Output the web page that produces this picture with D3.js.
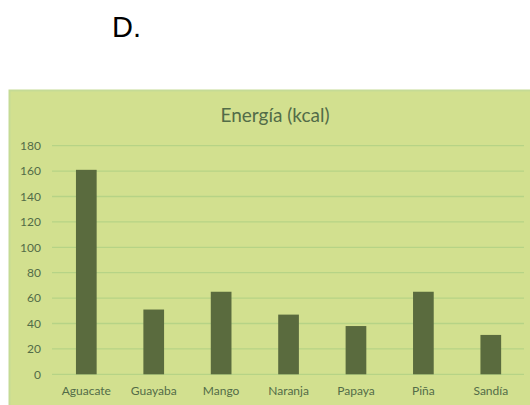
<!DOCTYPE html>
<html><head><meta charset="utf-8">
<script src="https://cdn.jsdelivr.net/npm/d3@7"></script>
<style>html,body{margin:0;padding:0;background:#fff;}svg{display:block;}</style>
</head><body>
<script>
const categories = ["Aguacate","Guayaba","Mango","Naranja","Papaya","Piña","Sandía"];
const energia = [161, 51, 65, 47, 38, 65, 31];
const yTicks = [0,20,40,60,80,100,120,140,160,180];
const chartTitle = "Energía (kcal)";
const label = "D.";

const W = 530, H = 405;
const svg = d3.select("body").append("svg").attr("width", W).attr("height", H);

svg.append("text").attr("x", 112).attr("y", 37)
  .attr("font-family", "Liberation Sans, Arial, sans-serif").attr("font-size", 29)
  .attr("fill", "#000").text(label);

svg.append("rect").attr("x", 9.5).attr("y", 90.5).attr("width", W).attr("height", H)
  .attr("fill", "#d2e08f").attr("stroke", "#c5db95").attr("stroke-width", 2);

const x = d3.scaleBand().domain(categories).range([52.6, 524.5]).padding(0);
const y = d3.scaleLinear().domain([0, 180]).range([374.3, 145.7]);

const textCol = "#526c48";
const font = "Lato, 'Open Sans', sans-serif";

svg.append("g").selectAll("line").data(yTicks).join("line")
  .attr("x1", 52).attr("x2", 524)
  .attr("y1", d => y(d)).attr("y2", d => y(d))
  .attr("stroke", "#b6d386").attr("stroke-width", 1.3);

const yAxis = d3.axisLeft(y).tickValues(yTicks).tickSize(0).tickPadding(0);
const gy = svg.append("g").attr("transform", "translate(41,0)").call(yAxis);
gy.select(".domain").remove();
gy.selectAll("text").attr("font-family", font).attr("font-size", 12).attr("fill", textCol);

const bw = x.bandwidth() * 0.307;
svg.append("g").selectAll("rect").data(energia).join("rect")
  .attr("x", (d, i) => x(categories[i]) + x.bandwidth()/2 - bw/2)
  .attr("width", bw)
  .attr("y", d => y(d))
  .attr("height", d => y(0) - y(d))
  .attr("fill", "#5a6b3e");

const xAxis = d3.axisBottom(x).tickSize(0).tickPadding(0);
const gx = svg.append("g").attr("transform", "translate(0,386)").call(xAxis);
gx.select(".domain").remove();
gx.selectAll("text").attr("font-family", font).attr("font-size", 12).attr("fill", textCol);

svg.append("text").attr("x", 275).attr("y", 122).attr("text-anchor", "middle")
  .attr("font-family", font).attr("font-size", 19).attr("fill", textCol).text(chartTitle);
</script>
</body></html>
